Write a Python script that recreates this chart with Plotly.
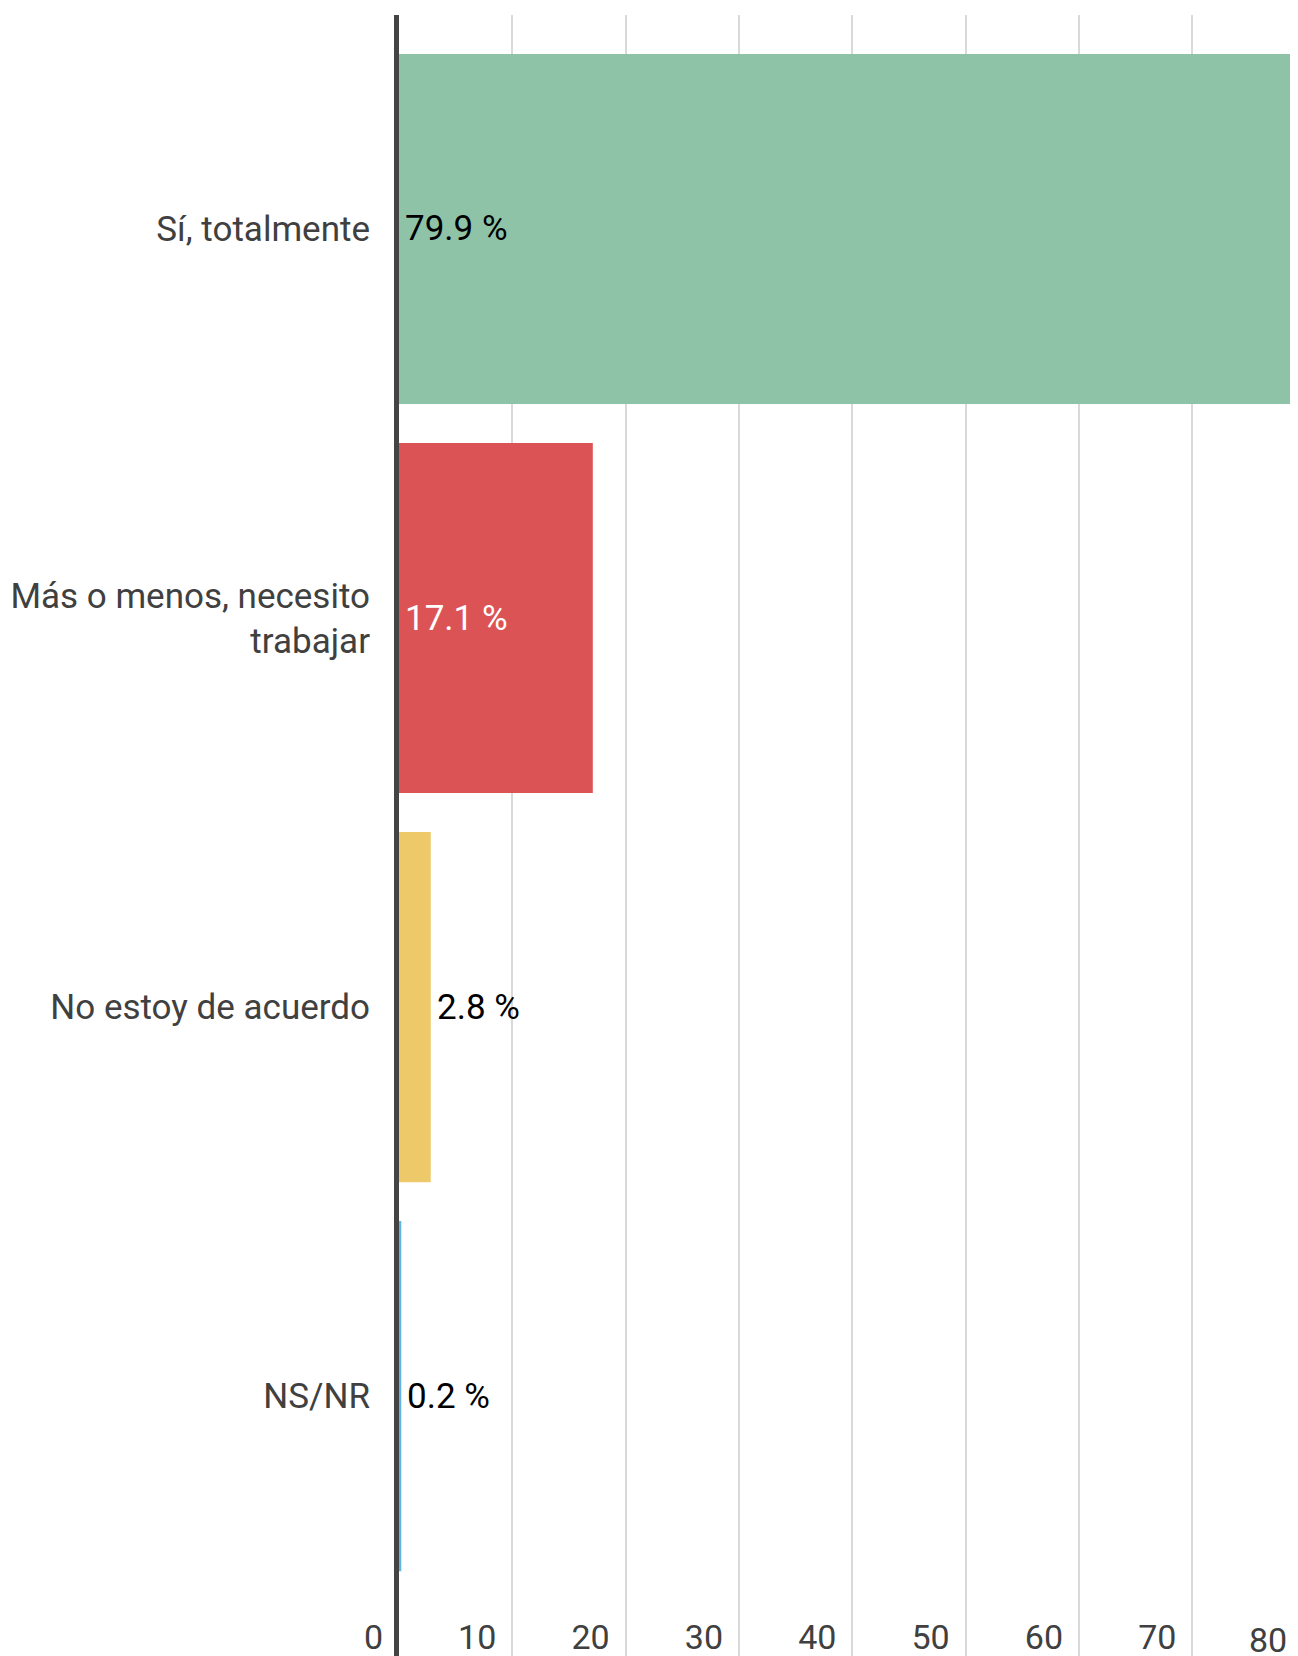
import plotly.graph_objects as go

categories = ["Sí, totalmente", "Más o menos, necesito<br>trabajar", "No estoy de acuerdo", "NS/NR"]
values = [79.9, 17.1, 2.8, 0.2]
value_labels = ["79.9 %", "17.1 %", "2.8 %", "0.2 %"]
label_inside = [True, True, False, False]
colors = ["#8EC3A7", "#DC5356", "#EEC96A", "#5DB6E6"]
label_colors = ["#000000", "#FFFFFF", "#000000", "#000000"]
tick_values = [0, 10, 20, 30, 40, 50, 60, 70]
tick_labels = ["0", "10", "20", "30", "40", "50", "60", "70"]
clipped_tick_label = "80"

FONT = "Roboto"
TEXT_GREY = "#404040"

fig = go.Figure()
fig.add_trace(go.Bar(
    y=categories,
    x=values,
    orientation="h",
    marker=dict(color=colors, line=dict(width=0)),
    hoverinfo="skip",
))

annotations = []
for cat, val, lab, inside, col in zip(categories, values, value_labels, label_inside, label_colors):
    annotations.append(dict(
        x=0 if inside else val,
        y=cat,
        xref="x", yref="y",
        text=lab,
        xanchor="left", yanchor="middle",
        xshift=4,
        showarrow=False,
        font=dict(family=FONT, size=35, color=col),
    ))

annotations.append(dict(
    text=clipped_tick_label,
    xref="paper", yref="paper",
    x=1, y=0,
    xanchor="right", yanchor="bottom",
    xshift=-9,
    yshift=-6,
    showarrow=False,
    font=dict(family=FONT, size=34, color=TEXT_GREY),
))

fig.update_layout(
    width=1290,
    height=1648,
    margin=dict(l=391, r=0, t=7, b=0, pad=0),
    paper_bgcolor="white",
    plot_bgcolor="white",
    showlegend=False,
    bargap=0.1,
    font=dict(family=FONT, color=TEXT_GREY),
    xaxis=dict(
        range=[0, 79.32],
        tickvals=tick_values,
        ticktext=tick_labels,
        ticks="",
        ticklabelposition="inside left",
        ticklabeloverflow="allow",
        ticklabelshift=-16,
        ticklabelstandoff=-6,
        tickfont=dict(family=FONT, size=34, color=TEXT_GREY),
        showgrid=True,
        gridcolor="#d9d9d9",
        gridwidth=2,
        zeroline=False,
        showline=False,
        fixedrange=True,
    ),
    yaxis=dict(
        categoryorder="array",
        categoryarray=categories,
        range=[3.668, -0.55],
        ticks="",
        ticklabelstandoff=17,
        tickfont=dict(family=FONT, size=35, color=TEXT_GREY),
        showgrid=False,
        zeroline=False,
        showline=True,
        linecolor="#444444",
        linewidth=5,
        fixedrange=True,
    ),
    annotations=annotations,
)

fig.write_html("out.html")
